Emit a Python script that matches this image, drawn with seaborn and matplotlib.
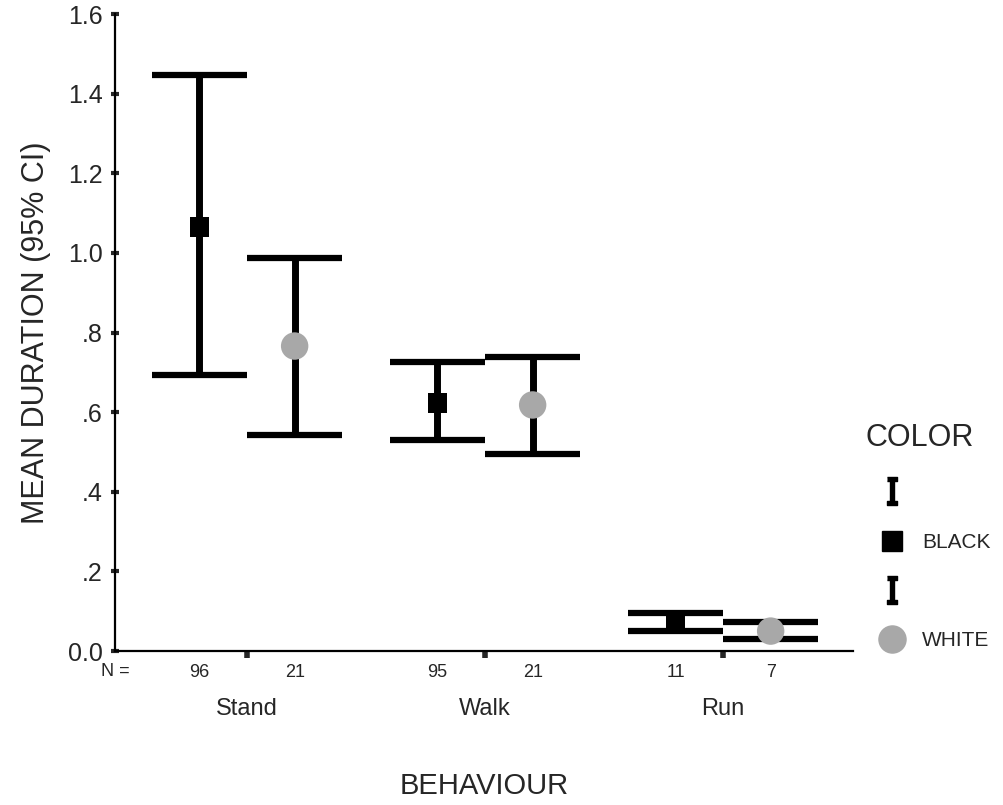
import pandas as pd
import matplotlib.pyplot as plt
import seaborn as sns
from matplotlib.lines import Line2D

# Data
behaviours = ["Stand", "Walk", "Run"]
colors = ["BLACK", "WHITE"]
mean_black = [1.065, 0.623, 0.073]
lo_black = [0.693, 0.530, 0.050]
hi_black = [1.447, 0.726, 0.095]
mean_white = [0.766, 0.618, 0.050]
lo_white = [0.543, 0.495, 0.030]
hi_white = [0.987, 0.739, 0.073]
n_black = [96, 95, 11]
n_white = [21, 21, 7]
ytick_values = [0.0, 0.2, 0.4, 0.6, 0.8, 1.0, 1.2, 1.4, 1.6]
ytick_labels = ["0.0", ".2", ".4", ".6", ".8", "1.0", "1.2", "1.4", "1.6"]

df = pd.DataFrame({
    "behaviour": behaviours * 2,
    "color": ["BLACK"] * 3 + ["WHITE"] * 3,
    "mean": mean_black + mean_white,
    "lo": lo_black + lo_white,
    "hi": hi_black + hi_white,
    "n": n_black + n_white,
})
dodge = {"BLACK": -0.2, "WHITE": 0.2}
df["x"] = df["behaviour"].map({b: i for i, b in enumerate(behaviours)}) + df["color"].map(dodge)
df = df.sort_values("x")

sns.set_style("ticks")
plt.rcParams["font.family"] = ["Liberation Sans", "DejaVu Sans"]

fig = plt.figure(figsize=(10.04, 8.05), dpi=100)
ax = fig.add_axes([0.1145, 0.1913, 0.7351, 0.7913])

# error bars: vertical line + caps
ax.vlines(df["x"], df["lo"], df["hi"], color="black", lw=5, zorder=2)
ax.hlines(df["lo"], df["x"] - 0.2, df["x"] + 0.2, color="black", lw=4.5, zorder=2)
ax.hlines(df["hi"], df["x"] - 0.2, df["x"] + 0.2, color="black", lw=4.5, zorder=2)

sns.scatterplot(data=df, x="x", y="mean", hue="color", style="color", size="color",
                palette={"BLACK": "black", "WHITE": "#a8a8a8"},
                markers={"BLACK": "s", "WHITE": "o"},
                sizes={"BLACK": 200, "WHITE": 390},
                linewidth=0, legend=False, zorder=3, ax=ax)

ax.set_xlim(-0.555, 2.546)
ax.set_ylim(0, 1.6)
ax.set_yticks(ytick_values, labels=ytick_labels, fontsize=18)
ax.tick_params(axis="y", direction="inout", length=6, width=3, pad=6)

# categories on major ticks, N on minor ticks
ax.set_xticks(range(len(behaviours)), labels=behaviours, fontsize=17)
ax.tick_params(axis="x", which="major", direction="out", length=5, width=4, pad=29)
ax.set_xticks(df["x"], labels=df["n"].astype(str), minor=True)
ax.tick_params(axis="x", which="minor", length=0, pad=9, labelsize=13)
ax.annotate("N =", xy=(0, 0), xycoords="axes fraction", xytext=(0, -15),
            textcoords="offset points", ha="center", va="center", fontsize=13)

ax.set_xlabel("BEHAVIOUR", fontsize=21, labelpad=37)
ax.set_ylabel("MEAN DURATION (95% CI)", fontsize=22, labelpad=12)

sns.despine(ax=ax)
for s in ["left", "bottom"]:
    ax.spines[s].set_linewidth(1.6)
    ax.spines[s].set_color("black")

# legend
ibeam = [(-0.35, 1), (0.35, 1), (0.35, 0.72), (0.15, 0.72), (0.15, -0.72), (0.35, -0.72),
         (0.35, -1), (-0.35, -1), (-0.35, -0.72), (-0.15, -0.72), (-0.15, 0.72), (-0.35, 0.72)]
handles = [
    Line2D([], [], ls="", marker=ibeam, markersize=20, color="black"),
    Line2D([], [], ls="", marker="s", markersize=14, color="black"),
    Line2D([], [], ls="", marker=ibeam, markersize=20, color="black"),
    Line2D([], [], ls="", marker="o", markersize=19.5, color="#a8a8a8"),
]
leg = fig.legend(handles, ["", "BLACK", "", "WHITE"], title="COLOR",
                 loc="upper left", bbox_to_anchor=(0.852, 0.487),
                 frameon=False, fontsize=15, title_fontsize=22,
                 handlelength=2.5, handletextpad=0.2, labelspacing=1.45,
                 alignment="left", borderpad=0)

fig.savefig("out.png", dpi=100)
